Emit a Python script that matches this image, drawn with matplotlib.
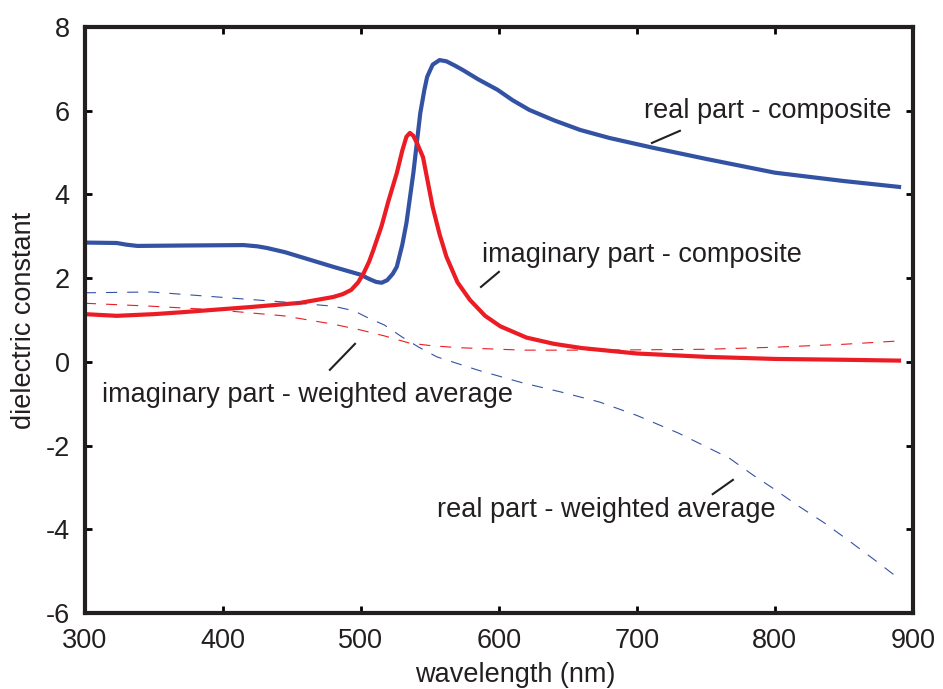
import numpy as np
import matplotlib.pyplot as plt

plt.rcParams['font.family'] = ['Liberation Sans', 'DejaVu Sans']
plt.rcParams['axes.unicode_minus'] = False

# real part - composite
wl_re_comp = [300, 323, 330, 338, 372, 415, 425, 432, 445, 456, 480, 500, 506, 511, 515, 519,
              523, 526, 530, 533, 538, 543, 546, 548, 552, 557, 562, 568, 574, 585, 599, 610,
              622, 640, 659, 680, 711, 750, 800, 850, 890]
re_comp = [2.85, 2.84, 2.80, 2.77, 2.78, 2.79, 2.76, 2.72, 2.62, 2.51, 2.27, 2.08, 1.98, 1.91,
           1.89, 1.95, 2.10, 2.27, 2.80, 3.32, 4.51, 5.94, 6.50, 6.81, 7.10, 7.21, 7.18, 7.08,
           6.97, 6.75, 6.50, 6.25, 6.02, 5.77, 5.54, 5.35, 5.12, 4.85, 4.52, 4.32, 4.18]

# imaginary part - composite
wl_im_comp = [300, 323, 350, 372, 400, 420, 456, 480, 487, 493, 498, 502, 506, 509, 515, 520,
              526, 530, 533, 535.5, 538, 541, 545, 552, 557, 562, 570, 579, 590, 601, 620, 640,
              660, 700, 750, 800, 850, 890]
im_comp = [1.14, 1.10, 1.14, 1.19, 1.26, 1.31, 1.41, 1.55, 1.62, 1.72, 1.90, 2.12, 2.40, 2.67,
           3.25, 3.85, 4.51, 5.05, 5.38, 5.47, 5.40, 5.20, 4.89, 3.70, 3.05, 2.51, 1.90, 1.48,
           1.10, 0.85, 0.58, 0.43, 0.33, 0.20, 0.12, 0.07, 0.05, 0.03]

# real part - weighted average
wl_re_avg = [300, 348, 396, 444, 480, 495, 504, 517, 530, 542, 555, 585, 617, 645, 673, 700,
             730, 767, 784, 800, 816, 836, 856, 873, 890]
re_avg = [1.65, 1.67, 1.55, 1.43, 1.33, 1.22, 1.07, 0.88, 0.59, 0.35, 0.12, -0.20, -0.50,
          -0.72, -0.96, -1.28, -1.70, -2.30, -2.70, -3.05, -3.42, -3.85, -4.33, -4.75, -5.18]

# imaginary part - weighted average
wl_im_avg = [300, 348, 396, 444, 480, 500, 517, 535, 550, 570, 617, 673, 750, 800, 850, 890]
im_avg = [1.40, 1.33, 1.24, 1.10, 0.90, 0.76, 0.62, 0.45, 0.39, 0.34, 0.28, 0.28, 0.30, 0.35,
          0.42, 0.50]

labels = ['real part - composite', 'imaginary part - composite',
          'imaginary part - weighted average', 'real part - weighted average']
label_pos = [(705, 5.83), (587.7, 2.39), (312.3, -0.96), (555, -3.71)]
leaders = [((710.9, 5.23), (731.2, 5.52)), ((587, 1.79), (600, 2.15)),
           ((477.5, -0.19), (495.7, 0.43)), ((755, -3.16), (769.6, -2.82))]

blue = '#3352a3'
red = '#ec1c24'
ink = '#231f20'
fs = 19.5

fig = plt.figure(figsize=(9.43, 6.89), dpi=100)
ax = fig.add_axes([0.0901, 0.1103, 0.968 - 0.0901, 0.9608 - 0.1103])

ax.plot(wl_re_comp, re_comp, color=blue, lw=3, solid_joinstyle='round')
ax.plot(wl_im_comp, im_comp, color=red, lw=3, solid_joinstyle='round')
ax.plot(wl_re_avg, re_avg, color=blue, lw=0.8, dashes=(10, 9))
ax.plot(wl_im_avg, im_avg, color=red, lw=0.8, dashes=(10, 9))

for txt, (tx, ty) in zip(labels, label_pos):
    ax.text(tx, ty, txt, fontsize=fs, color=ink, ha='left', va='baseline')
for (p0, p1) in leaders:
    ax.plot([p0[0], p1[0]], [p0[1], p1[1]], color=ink, lw=1.5)

ax.set_xlim(300, 900)
ax.set_ylim(-6, 8)
ax.set_xticks(np.arange(300, 901, 100))
ax.set_yticks(np.arange(-6, 9, 2))
ax.tick_params(direction='in', length=5, width=2, top=True, right=True,
               labelsize=fs, labelcolor=ink, pad=11)
for s in ax.spines.values():
    s.set_linewidth(3)
    s.set_color(ink)
ax.set_xlabel('wavelength (nm)', fontsize=fs, color=ink)
ax.xaxis.set_label_coords(0.52, -0.083)
ax.set_ylabel('dielectric constant', fontsize=fs, color=ink, labelpad=6)

fig.savefig('out.png', dpi=100)
